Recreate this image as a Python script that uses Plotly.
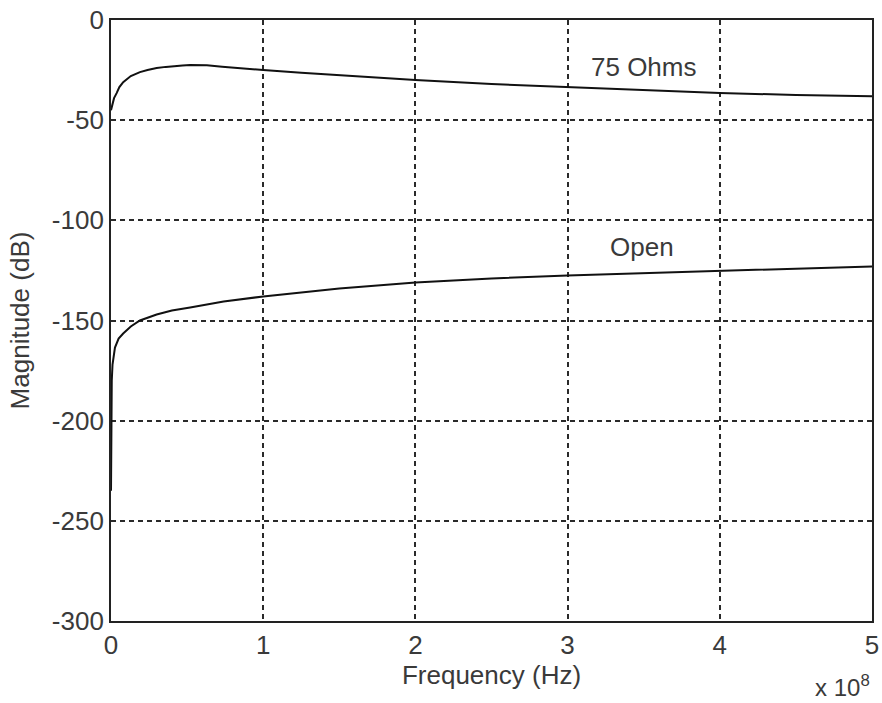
import plotly.graph_objects as go

# Frequency samples in Hz, magnitude response in dB
freq_75 = [0, 0.005e8, 0.01e8, 0.02e8, 0.037e8, 0.055e8, 0.08e8, 0.105e8, 0.13e8,
           0.16e8, 0.19e8, 0.24e8, 0.30e8, 0.36e8, 0.41e8, 0.47e8, 0.52e8,
           0.63e8, 0.73e8, 0.83e8, 1.0e8, 1.25e8, 1.5e8, 1.75e8, 2.0e8, 2.5e8,
           3.0e8, 3.45e8, 4.0e8, 4.5e8, 5.0e8]
mag_75 = [-45, -43, -41, -39, -36.5, -33.5, -31, -29.3, -28,
          -27, -26, -25, -24, -23.4, -23, -22.7, -22.5,
          -22.6, -23.3, -24, -25, -26.3, -27.5, -28.8, -30, -32,
          -33.5, -35.2, -36.5, -37.4, -38]

freq_open = [0, 0.002e8, 0.005e8, 0.01e8, 0.018e8, 0.026e8, 0.05e8, 0.08e8, 0.13e8,
             0.19e8, 0.30e8, 0.40e8, 0.52e8, 0.74e8, 1.0e8, 1.29e8, 1.5e8, 2.0e8,
             2.5e8, 3.0e8, 3.32e8, 4.0e8, 4.46e8, 5.0e8]
mag_open = [-235, -200, -180, -172, -167, -163.5, -159, -156.5, -153,
            -150, -147, -145, -143.5, -140.5, -138, -135.5, -134, -131,
            -129, -127.5, -126.8, -125.5, -124.5, -123]

x_ticks = [0, 1e8, 2e8, 3e8, 4e8, 5e8]
x_tick_text = ["0", "1", "2", "3", "4", "5"]
y_ticks = [0, -50, -100, -150, -200, -250, -300]
y_tick_text = ["0", "-50", "-100", "-150", "-200", "-250", "-300"]

FONT = dict(family="Liberation Sans, Arial, sans-serif", size=26, color="#3a3a3a")

fig = go.Figure()
fig.add_trace(go.Scatter(x=freq_75, y=mag_75, mode="lines",
                         line=dict(color="#111111", width=2),
                         name="75 Ohms", showlegend=False))
fig.add_trace(go.Scatter(x=freq_open, y=mag_open, mode="lines",
                         line=dict(color="#111111", width=2),
                         name="Open", showlegend=False))

fig.add_annotation(x=3.5e8, y=-23.5, text="75 Ohms", showarrow=False, font=FONT)
fig.add_annotation(x=3.49e8, y=-113.5, text="Open", showarrow=False, font=FONT)
# exponent multiplier for the frequency axis
fig.add_annotation(xref="paper", yref="paper", x=1.0, y=-0.108, xanchor="right",
                   yanchor="middle", text="x 10<sup>8</sup>", showarrow=False,
                   font=dict(family=FONT["family"], size=24, color=FONT["color"]))

axis_common = dict(
    showline=True, linecolor="#222222", linewidth=1.8, mirror=True,
    showgrid=True, gridcolor="#2a2a2a", gridwidth=1.8, griddash="5px,4px",
    zeroline=False, tickfont=FONT, ticks="", automargin=False,
)

fig.update_xaxes(range=[0, 5e8], tickvals=x_ticks, ticktext=x_tick_text,
                 title=dict(text="Frequency (Hz)", font=FONT, standoff=0),
                 **axis_common)
fig.update_yaxes(range=[-300, 0], tickvals=y_ticks, ticktext=y_tick_text,
                 title=dict(text="Magnitude (dB)", font=FONT),
                 **axis_common)

fig.update_layout(
    width=882, height=703,
    margin=dict(l=111, r=10, t=20, b=82),
    paper_bgcolor="white", plot_bgcolor="white",
    font=FONT,
)

fig.write_html("out.html")
